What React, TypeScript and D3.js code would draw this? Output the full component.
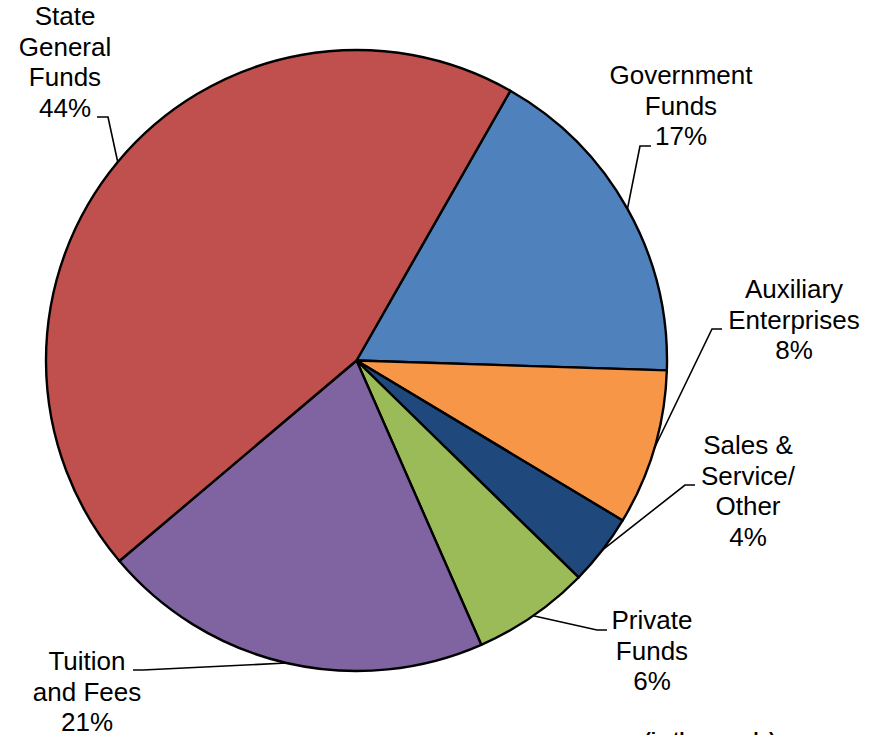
import React from "react";
import * as d3 from "d3";

const categories = [
  "Government Funds",
  "Auxiliary Enterprises",
  "Sales & Service/Other",
  "Private Funds",
  "Tuition and Fees",
  "State General Funds",
];
const values = [17.25, 8.1, 3.7, 6.1, 20.4, 44.4];
const labelLines = [
  ["Government", "Funds", "17%"],
  ["Auxiliary", "Enterprises", "8%"],
  ["Sales &", "Service/", "Other", "4%"],
  ["Private", "Funds", "6%"],
  ["Tuition", "and Fees", "21%"],
  ["State", "General", "Funds", "44%"],
];
const colors = ["#4F81BD", "#F79646", "#1F497D", "#9BBB59", "#8064A2", "#C0504D"];

// label layout: text center x, first baseline y, elbow point, end of horizontal leader
const labelLayout = [
  { tx: 681, ty: 84, ex: 640, ey: 146, hx: 651 },
  { tx: 794, ty: 298, ex: 712, ey: 329, hx: 722 },
  { tx: 748, ty: 454, ex: 685, ey: 485, hx: 695 },
  { tx: 652, ty: 629, ex: 597, ey: 630, hx: 607 },
  { tx: 87, ty: 670, ex: 143, ey: 670, hx: 133 },
  { tx: 65, ty: 25, ex: 108, ey: 117, hx: 97 },
];

const W = 875;
const H = 735;
const cx = 356.5;
const cy = 360.5;
const R = 310.5;
const startDeg = 29.7;
const lineH = 30.7;

export default function App() {
  const start = (startDeg * Math.PI) / 180;
  const pie = d3
    .pie<number>()
    .sort(null)
    .value((d) => d)
    .startAngle(start)
    .endAngle(start + 2 * Math.PI);
  const arcs = pie(values);
  const arc = d3.arc<d3.PieArcDatum<number>>().innerRadius(0).outerRadius(R);
  const font = "'Liberation Sans', Arial, sans-serif";

  return (
    <svg
      width={W}
      height={H}
      style={{ position: "absolute", left: 0, top: 0, background: "#fff" }}
    >
      <g transform={`translate(${cx},${cy})`}>
        {arcs.map((a, i) => (
          <path
            key={categories[i]}
            d={arc(a) || ""}
            fill={colors[i]}
            stroke="#000"
            strokeWidth={2.4}
            strokeLinejoin="round"
          />
        ))}
      </g>
      {arcs.map((a, i) => {
        const mid = (a.startAngle + a.endAngle) / 2;
        const px = cx + R * Math.sin(mid);
        const py = cy - R * Math.cos(mid);
        const L = labelLayout[i];
        return (
          <polyline
            key={"l" + i}
            points={`${px},${py} ${L.ex},${L.ey} ${L.hx},${L.ey}`}
            fill="none"
            stroke="#000"
            strokeWidth={1.6}
          />
        );
      })}
      {labelLines.map((lines, i) => {
        const L = labelLayout[i];
        return (
          <text
            key={"t" + i}
            textAnchor="middle"
            fontFamily={font}
            fontSize={26}
            fill="#000"
          >
            {lines.map((s, j) => (
              <tspan key={j} x={L.tx} y={L.ty + j * lineH}>
                {s}
              </tspan>
            ))}
          </text>
        );
      })}
      <text
        x={710}
        y={745}
        textAnchor="middle"
        fontFamily={font}
        fontSize={19}
        fontWeight="bold"
        fill="#000"
      >
        (in thousands)
      </text>
    </svg>
  );
}
